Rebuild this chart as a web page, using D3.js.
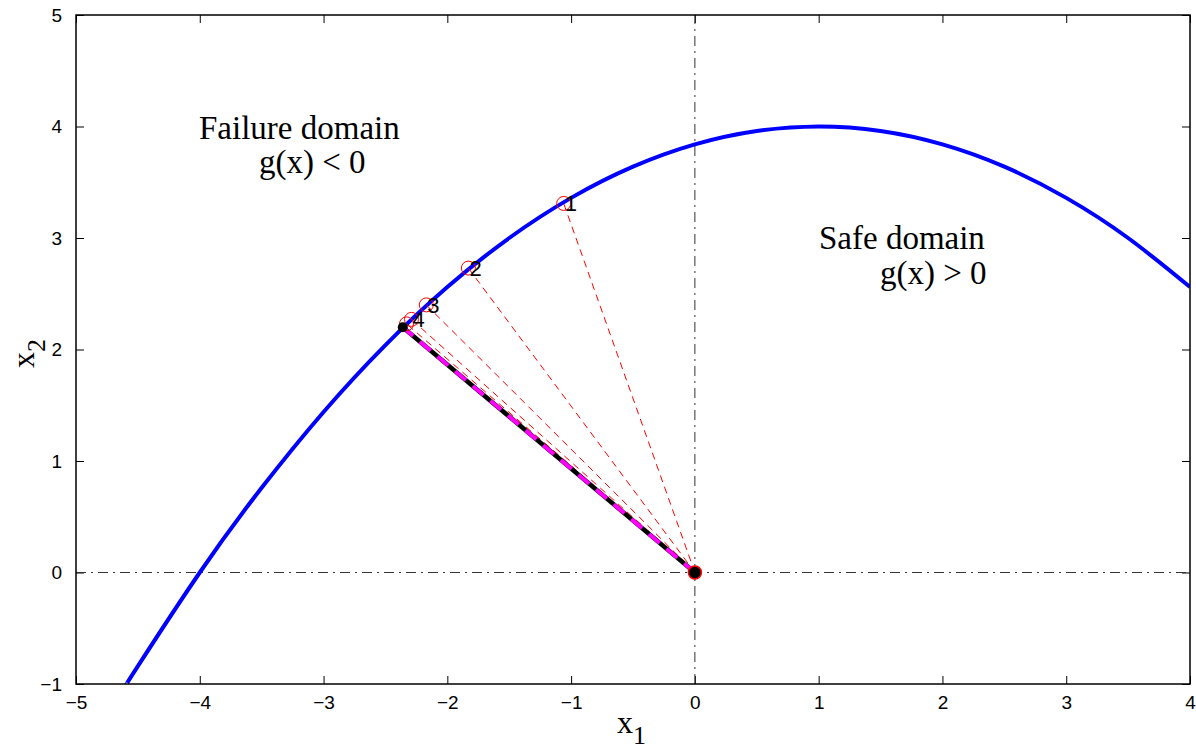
<!DOCTYPE html>
<html>
<head>
<meta charset="utf-8">
<script src="https://cdn.jsdelivr.net/npm/d3@7"></script>
<style>
  body { margin: 0; background: #fff; }
  .tick text { font-family: "Liberation Sans", Arial, sans-serif; font-size: 19px; fill: #000; }
  .lbl { font-family: "Liberation Serif", "Times New Roman", serif; font-size: 33px; fill: #000; }
  .axlbl { font-family: "Liberation Serif", "Times New Roman", serif; font-size: 32px; fill: #000; }
</style>
</head>
<body>
<div id="chart"></div>
<script>
(function(){

// limit state curve g(x)=0
const curveX = [-4.59, -4.5, -4, -3.5, -3, -2.5, -2, -1.5, -1, -0.5, 0, 0.5, 1, 1.5, 2, 2.5, 3, 3.5, 4];
const curveY = [-1.0, -0.84, 0, 0.76, 1.44, 2.04, 2.56, 3.0, 3.36, 3.64, 3.84, 3.96, 4.0, 3.96, 3.84, 3.64, 3.36, 3.0, 2.56];

// iteration points
const iterX = [-1.06, -1.83, -2.17, -2.29, -2.33];
const iterY = [3.31, 2.73, 2.40, 2.27, 2.23];
const iterLabels = ["1", "2", "3", "4", ""];

// design point
const designPt = [-2.36, 2.20];

const xTicks = [-5, -4, -3, -2, -1, 0, 1, 2, 3, 4];
const yTicks = [-1, 0, 1, 2, 3, 4, 5];

const width = 1196, height = 750,
      margin = ({ top: 15, right: 6, bottom: 66, left: 76 });

const svg = d3.select("#chart")
  .append("svg")
  .attr("width", width)
  .attr("height", height);

const x = d3.scaleLinear()
  .domain([-5, 4])
  .range([margin.left, width - margin.right]);

const y = d3.scaleLinear()
  .domain([-1, 5])
  .range([height - margin.bottom, margin.top]);

const fmt = d => d < 0 ? "\u2212" + Math.abs(d) : String(d);

svg.append("defs").append("clipPath").attr("id", "clip")
  .append("rect")
  .attr("x", margin.left).attr("y", margin.top)
  .attr("width", x(4) - x(-5)).attr("height", y(-1) - y(5));

// axes with inward ticks on all sides
svg.append("g")
  .attr("transform", `translate(0,${y(-1)})`)
  .call(d3.axisBottom(x).tickValues(xTicks).tickFormat(fmt).tickSizeInner(-8).tickSizeOuter(0).tickPadding(12))
  .call(g => g.select(".domain").remove());

svg.append("g")
  .attr("transform", `translate(0,${y(5)})`)
  .call(d3.axisTop(x).tickValues(xTicks).tickFormat("").tickSizeInner(-8).tickSizeOuter(0))
  .call(g => g.select(".domain").remove());

svg.append("g")
  .attr("transform", `translate(${x(-5)},0)`)
  .call(d3.axisLeft(y).tickValues(yTicks).tickFormat(fmt).tickSizeInner(-8).tickSizeOuter(0).tickPadding(14))
  .call(g => g.select(".domain").remove());

svg.append("g")
  .attr("transform", `translate(${x(4)},0)`)
  .call(d3.axisRight(y).tickValues(yTicks).tickFormat("").tickSizeInner(-8).tickSizeOuter(0))
  .call(g => g.select(".domain").remove());

svg.selectAll(".tick line").attr("stroke", "#000");

// dash-dot reference axes
const plot = svg.append("g").attr("clip-path", "url(#clip)");

plot.append("line")
  .attr("x1", x(-5)).attr("x2", x(4))
  .attr("y1", y(0)).attr("y2", y(0))
  .attr("stroke", "#333").attr("stroke-width", 1)
  .attr("stroke-dasharray", "10,5,2,5");

plot.append("line")
  .attr("x1", x(0)).attr("x2", x(0))
  .attr("y1", y(-1)).attr("y2", y(5))
  .attr("stroke", "#333").attr("stroke-width", 1)
  .attr("stroke-dasharray", "10,5,2,5");

// limit state curve
const curveData = curveX.map((d, i) => [d, curveY[i]]);
plot.append("path")
  .datum(curveData)
  .attr("fill", "none")
  .attr("stroke", "#0000ff")
  .attr("stroke-width", 4)
  .attr("d", d3.line().x(d => x(d[0])).y(d => y(d[1])).curve(d3.curveNatural));

// red dashed rays from origin
plot.selectAll(".ray")
  .data(iterX)
  .join("line")
  .attr("x1", x(0)).attr("y1", y(0))
  .attr("x2", d => x(d)).attr("y2", (d, i) => y(iterY[i]))
  .attr("stroke", "#ff0000").attr("stroke-width", 1)
  .attr("stroke-dasharray", "7,5");

// reliability index line
plot.append("line")
  .attr("x1", x(0)).attr("y1", y(0))
  .attr("x2", x(designPt[0])).attr("y2", y(designPt[1]))
  .attr("stroke", "#000").attr("stroke-width", 4.5);

plot.append("line")
  .attr("x1", x(0)).attr("y1", y(0))
  .attr("x2", x(designPt[0])).attr("y2", y(designPt[1]))
  .attr("stroke", "#ff00ff").attr("stroke-width", 4)
  .attr("stroke-dasharray", "14,9");

// iteration markers
plot.selectAll(".pt")
  .data(iterX)
  .join("circle")
  .attr("cx", d => x(d)).attr("cy", (d, i) => y(iterY[i]))
  .attr("r", 7)
  .attr("fill", "none").attr("stroke", "#ff0000").attr("stroke-width", 1);

plot.selectAll(".ptlbl")
  .data(iterX)
  .join("text")
  .attr("x", d => x(d) + 1).attr("y", (d, i) => y(iterY[i]) + 8)
  .style("font-family", "'Liberation Sans', Arial, sans-serif")
  .style("font-size", "22px")
  .style("fill", "#000")
  .text((d, i) => iterLabels[i]);

// design point
plot.append("circle")
  .attr("cx", x(designPt[0])).attr("cy", y(designPt[1]))
  .attr("r", 5).attr("fill", "#000");

// origin
plot.append("circle")
  .attr("cx", x(0)).attr("cy", y(0))
  .attr("r", 6.5).attr("fill", "#000")
  .attr("stroke", "#ff0000").attr("stroke-width", 1.5);

// frame
svg.append("rect")
  .attr("x", x(-5)).attr("y", y(5))
  .attr("width", x(4) - x(-5)).attr("height", y(-1) - y(5))
  .attr("fill", "none").attr("stroke", "#000").attr("stroke-width", 1.5);

// domain annotations
svg.append("text").attr("class", "lbl").attr("x", 199).attr("y", 139).text("Failure domain");
svg.append("text").attr("class", "lbl").attr("x", 259).attr("y", 173).text("g(x) < 0");
svg.append("text").attr("class", "lbl").attr("x", 819).attr("y", 249).text("Safe domain");
svg.append("text").attr("class", "lbl").attr("x", 880).attr("y", 284).text("g(x) > 0");

// axis labels
const xl = svg.append("text").attr("class", "axlbl").attr("x", 617).attr("y", 733);
xl.append("tspan").text("x");
xl.append("tspan").attr("dy", 11).attr("font-size", 26).text("1");

const yl = svg.append("text").attr("class", "axlbl")
  .attr("transform", `translate(34,${368}) rotate(-90)`);
yl.append("tspan").text("x");
yl.append("tspan").attr("dy", 11).attr("font-size", 26).text("2");

})();
</script>
</body>
</html>
